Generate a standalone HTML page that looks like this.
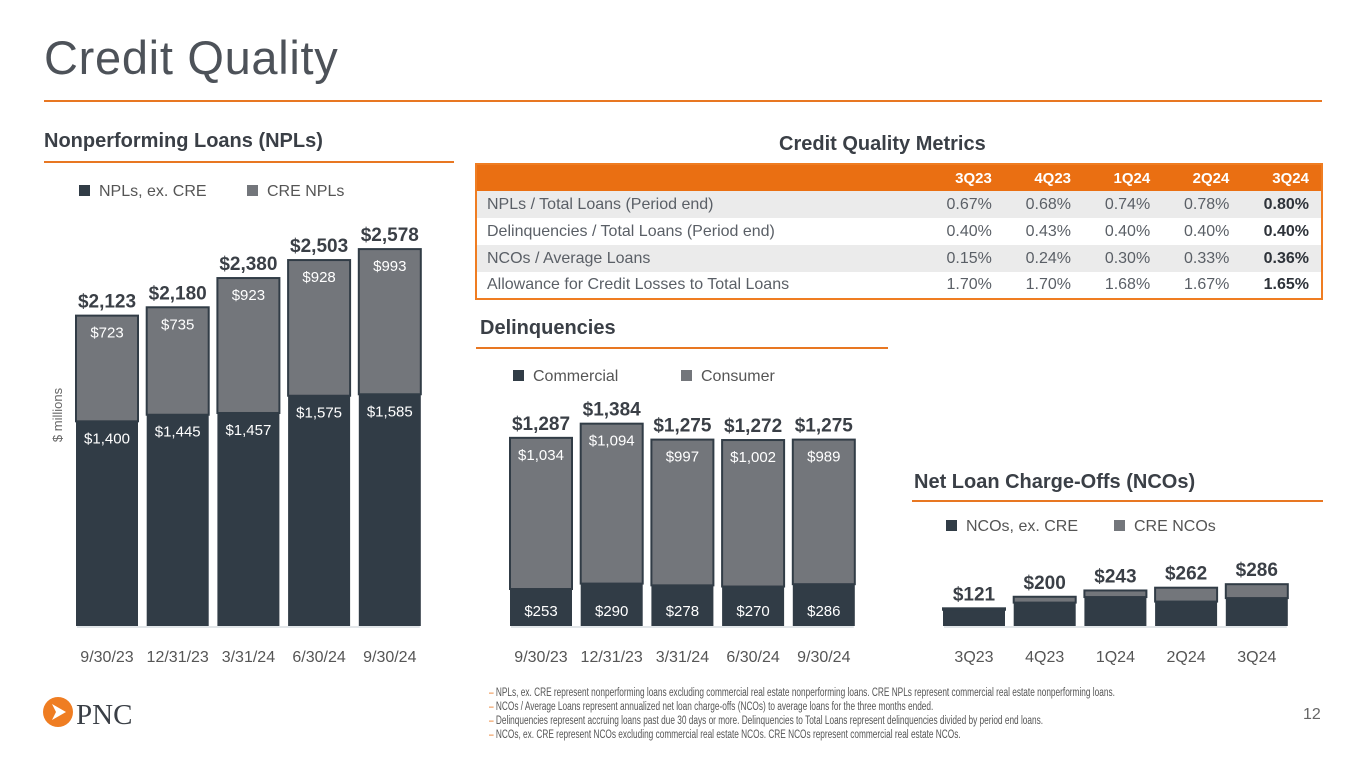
<!DOCTYPE html>
<html><head><meta charset="utf-8"><style>
*{margin:0;padding:0;box-sizing:border-box}
body{width:1365px;height:768px;background:#fff;position:relative;overflow:hidden;font-family:"Liberation Sans",sans-serif;color:#3a4048}
.abs{position:absolute}
h1{position:absolute;left:44px;top:30px;font-size:47px;font-weight:normal;color:#4d5259;letter-spacing:0.7px}
.sec{position:absolute;font-size:20px;font-weight:bold;color:#3a3f46}
.rule{position:absolute;height:2px;background:#e87722}
table{position:absolute;left:475px;top:163px;width:848px;border-collapse:collapse;border:2px solid #ef7d22;font-size:16px;color:#5a5f66}
th{background:#ea6f12;color:#fff;height:27px;text-align:right;padding-right:12px;font-size:15px}
td{height:27px;text-align:right;padding-right:12px}
td:first-child{text-align:left;padding-left:10px}
tr.alt td{background:#ebebeb}
td.b{font-weight:bold;color:#2e333a}
.foot{position:absolute;left:489px;top:686px;font-size:11.5px;line-height:14px;color:#555;transform:scaleX(0.72);transform-origin:left top;white-space:nowrap}
.foot span{color:#e87722}
</style></head><body>
<h1>Credit Quality</h1>
<div class="rule" style="left:44px;top:100px;width:1278px"></div>
<div class="sec" style="left:44px;top:130px">Nonperforming Loans (NPLs)</div>
<div class="rule" style="left:44px;top:161px;width:410px"></div>
<div class="sec" style="left:779px;top:133px">Credit Quality Metrics</div>
<div class="sec" style="left:480px;top:317px">Delinquencies</div>
<div class="rule" style="left:476px;top:347px;width:412px"></div>
<div class="sec" style="left:914px;top:471px">Net Loan Charge-Offs (NCOs)</div>
<div class="rule" style="left:912px;top:500px;width:411px"></div>

<table>
<tr><th style="text-align:left"></th><th>3Q23</th><th>4Q23</th><th>1Q24</th><th>2Q24</th><th>3Q24</th></tr>
<tr class="alt"><td>NPLs / Total Loans (Period end)</td><td>0.67%</td><td>0.68%</td><td>0.74%</td><td>0.78%</td><td class="b">0.80%</td></tr>
<tr><td>Delinquencies / Total Loans (Period end)</td><td>0.40%</td><td>0.43%</td><td>0.40%</td><td>0.40%</td><td class="b">0.40%</td></tr>
<tr class="alt"><td>NCOs / Average Loans</td><td>0.15%</td><td>0.24%</td><td>0.30%</td><td>0.33%</td><td class="b">0.36%</td></tr>
<tr><td>Allowance for Credit Losses to Total Loans</td><td>1.70%</td><td>1.70%</td><td>1.68%</td><td>1.67%</td><td class="b">1.65%</td></tr>
</table>

<svg id="charts" class="abs" style="left:0;top:0" width="1365" height="768"></svg>

<div class="abs" style="left:42px;top:694px;width:100px;height:36px">
<svg width="100" height="36"><circle cx="16" cy="18" r="15" fill="#ef7d22"/><polygon points="10,10 24,18 10,26 14,18" fill="#fff"/>
<text x="34" y="30" font-family="Liberation Serif,serif" font-size="29" fill="#3a3f46">PNC</text></svg></div>
<div class="foot">
<div><span>–</span> NPLs, ex. CRE represent nonperforming loans excluding commercial real estate nonperforming loans. CRE NPLs represent commercial real estate nonperforming loans.</div>
<div><span>–</span> NCOs / Average Loans represent annualized net loan charge-offs (NCOs) to average loans for the three months ended.</div>
<div><span>–</span> Delinquencies represent accruing loans past due 30 days or more. Delinquencies to Total Loans represent delinquencies divided by period end loans.</div>
<div><span>–</span> NCOs, ex. CRE represent NCOs excluding commercial real estate NCOs. CRE NCOs represent commercial real estate NCOs.</div>
</div>
<div class="abs" style="left:1303px;top:706px;font-size:16px;color:#666">12</div>

<script>
const nplCats=["9/30/23","12/31/23","3/31/24","6/30/24","9/30/24"];
const nplExCre=[1400,1445,1457,1575,1585];
const nplCre=[723,735,923,928,993];
const delCats=["9/30/23","12/31/23","3/31/24","6/30/24","9/30/24"];
const delComm=[253,290,278,270,286];
const delCons=[1034,1094,997,1002,989];
const ncoCats=["3Q23","4Q23","1Q24","2Q24","3Q24"];
const ncoExCre=[111,160,198,167,191];
const ncoCre=[10,40,45,95,95];

const svg=document.getElementById('charts');
const NS="http://www.w3.org/2000/svg";
const DARK="#313c46",GREY="#73767b";
const baseY=626, scale=0.1462;
function y(v){return baseY-v*scale;}
function mk(tag,a){const e=document.createElementNS(NS,tag);for(const k in a)e.setAttribute(k,a[k]);svg.appendChild(e);return e;}
function txt(x,yy,s,size,fill,weight){const t=mk('text',{x:x,y:yy,'text-anchor':'middle','font-size':size,fill:fill,'font-weight':weight||'normal','font-family':'Liberation Sans, sans-serif'});t.textContent=s;return t;}
function fmt(v){return "$"+v.toLocaleString('en-US');}

function chart(x0,cats,a,b,labA,labB,legA,legB,legY,showInner){
  const step=70.7,w=62;
  const line=mk('line',{x1:x0-30,x2:x0+4*step+30,y1:baseY+1,y2:baseY+1,stroke:'#d9dde2','stroke-width':1.5});
  
  
  const l1=mk('rect',{x:x0-28,y:legY-11,width:11,height:11,fill:DARK});
  
  
  const t1=mk('text',{x:x0-8,y:legY,'font-size':16,fill:'#555','font-family':'Liberation Sans, sans-serif'});t1.textContent=legA;
  
  
  const l2=mk('rect',{x:x0+140,y:legY-11,width:11,height:11,fill:GREY});
  
  
  const t2=mk('text',{x:x0+160,y:legY,'font-size':16,fill:'#555','font-family':'Liberation Sans, sans-serif'});t2.textContent=legB;
  
  
  cats.forEach((c,i)=>{
    const cx=x0+i*step;
    const ya=y(a[i]), yt=y(a[i]+b[i]);
    const r1=mk('rect',{x:cx-w/2,y:ya,width:w,height:baseY-ya,fill:DARK});
    
    
    const r2=mk('rect',{x:cx-w/2,y:yt,width:w,height:ya-yt,fill:GREY,stroke:DARK,'stroke-width':2});
    
    
    if(showInner){
      const ia=txt(cx,showInner==='bottom'?baseY-10:ya+22,fmt(a[i]),15,'#fff');
      
      
      const ib=txt(cx,yt+22,fmt(b[i]),15,'#fff');
      
      
    }
    const tt=txt(cx,yt-8,fmt(a[i]+b[i]),19,'#3a3f46','bold');
    
    
    const xl=txt(cx,baseY+36,c,16,'#555');
    
    
  });
}
chart(107,nplCats,nplExCre,nplCre,'npl-ex-cre','cre-npl','NPLs, ex. CRE','CRE NPLs',196,'mid');
chart(541,delCats,delComm,delCons,'commercial','consumer','Commercial','Consumer',381,'bottom');
chart(974,ncoCats,ncoExCre,ncoCre,'nco-ex-cre','cre-nco','NCOs, ex. CRE','CRE NCOs',531,null);
const yt=mk('text',{x:0,y:0,'font-size':13,fill:'#666','text-anchor':'middle','font-family':'Liberation Sans, sans-serif',transform:'translate(62,415) rotate(-90)'});
yt.textContent='$ millions';


</script>
</body></html>
